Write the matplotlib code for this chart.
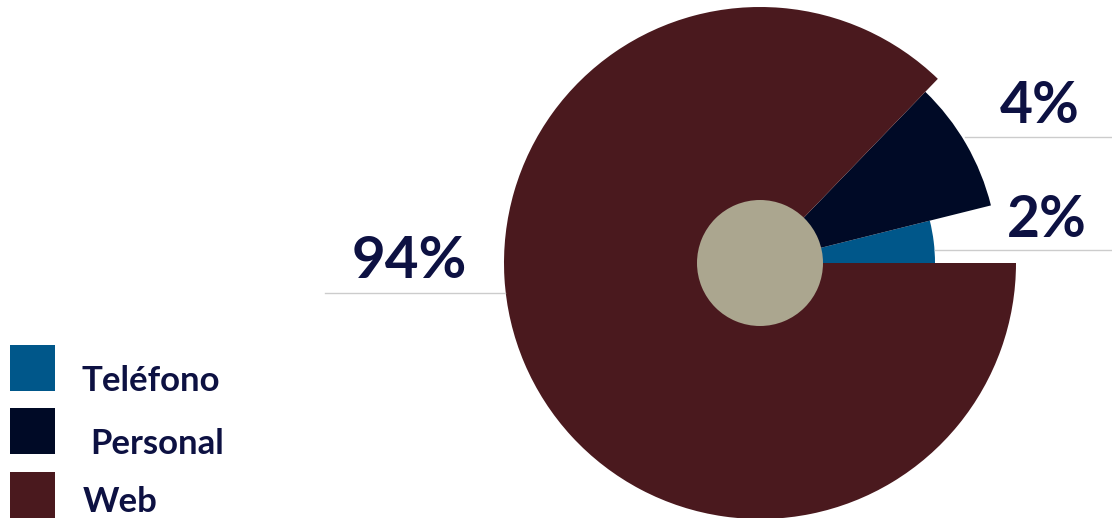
import numpy as np
import matplotlib.pyplot as plt
from matplotlib.lines import Line2D
from matplotlib.patches import Rectangle

plt.rcParams['font.family'] = ['Lato', 'DejaVu Sans']

categories = ['Teléfono', 'Personal', 'Web']
labels = ['2%', '4%', '94%']
spans_deg = [14, 32, 314]      # angular span as drawn
radii = [175, 238, 256]        # outer radius of each wedge
colors = ['#00578a', '#000a26', '#4a191e']
hole_r = 63
hole_color = '#aba68f'
text_color = '#0d1142'

W, H = 1112, 518
fig = plt.figure(figsize=(W / 100, H / 100), dpi=100)

def fx(px):
    return px / W

def fy(py):
    return 1 - py / H

# polar axes centred at (760, 263) px, radius 257 px
ax = fig.add_axes([fx(503), fy(520), 514 / W, 514 / H], projection='polar')
starts = np.deg2rad(np.concatenate([[0], np.cumsum(spans_deg)[:-1]]))
ax.bar(starts, radii, width=np.deg2rad(spans_deg), bottom=0, align='edge',
       color=colors, edgecolor='none', linewidth=0)
ax.bar(0, hole_r, width=2 * np.pi, bottom=0, color=hole_color,
       edgecolor='none', linewidth=0)
ax.set_ylim(0, 257)
ax.set_axis_off()

# percentage labels with thin rules
lab_pos = [(1007, 237, 41), (1000, 123, 41), (352, 278, 42)]
rules = [(935, 1112, 250), (965, 1112, 137), (325, 505, 293)]
for lab, (x, y, fs), (x0, x1, yl) in zip(labels, lab_pos, rules):
    fig.text(fx(x), fy(y), lab, fontsize=fs, fontweight='bold',
             color=text_color, ha='left', va='baseline')
    fig.add_artist(Line2D([fx(x0), fx(x1)], [fy(yl), fy(yl)],
                          transform=fig.transFigure, color='#cccccc', lw=1))

# legend
sq_top = [345, 408, 472]
txt_pos = [(82, 391), (90, 454), (83, 512)]
for cat, col, top, (tx, ty) in zip(categories, colors, sq_top, txt_pos):
    fig.add_artist(Rectangle((fx(10), fy(top + 46)), 45 / W, 46 / H,
                             transform=fig.transFigure, color=col, lw=0))
    fig.text(fx(tx), fy(ty), cat, fontsize=25, fontweight='bold',
             color=text_color, ha='left', va='baseline')

fig.savefig('out.png', dpi=100)
